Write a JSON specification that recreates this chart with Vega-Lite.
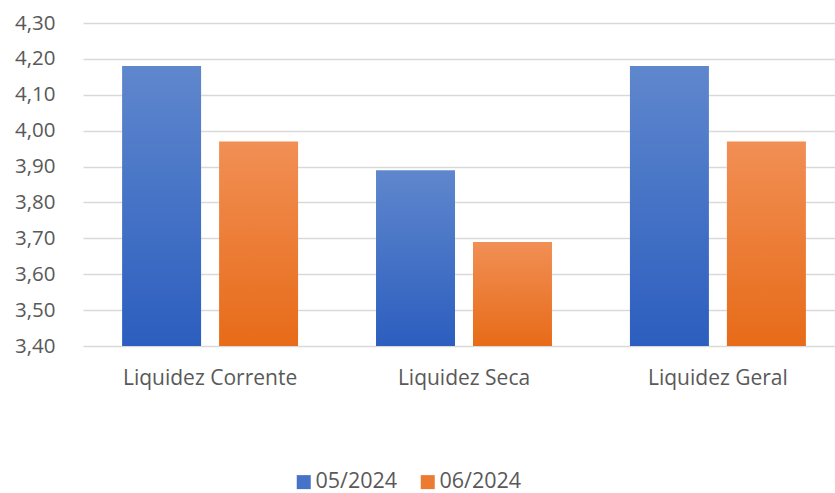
{
  "$schema": "https://vega.github.io/schema/vega-lite/v6.json",
  "width": 762,
  "height": 323,
  "padding": {"left": 83, "top": 23, "right": 0, "bottom": 147},
  "autosize": {"type": "none"},
  "background": "white",
  "config": {
    "view": {"stroke": null},
    "font": "Open Sans",
    "axis": {"labelFont": "Open Sans", "labelColor": "#595959", "labelFontSize": 20}
  },
  "data": {
    "values": [
      {"categoria": "Liquidez Corrente", "periodo": "05/2024", "valor": 4.18},
      {"categoria": "Liquidez Corrente", "periodo": "06/2024", "valor": 3.97},
      {"categoria": "Liquidez Seca", "periodo": "05/2024", "valor": 3.89},
      {"categoria": "Liquidez Seca", "periodo": "06/2024", "valor": 3.69},
      {"categoria": "Liquidez Geral", "periodo": "05/2024", "valor": 4.18},
      {"categoria": "Liquidez Geral", "periodo": "06/2024", "valor": 3.97}
    ]
  },
  "encoding": {
    "x": {
      "field": "categoria", "type": "nominal", "sort": null,
      "scale": {"paddingInner": 0.307, "paddingOuter": 0.154},
      "axis": {"title": null, "labelAngle": 0, "ticks": false, "domain": false, "labelPadding": 21, "labelFontSize": 21}
    },
    "xOffset": {
      "field": "periodo", "type": "nominal",
      "scale": {"domain": ["05/2024", "06/2024"], "paddingInner": 0.1856, "paddingOuter": 0}
    },
    "y": {
      "field": "valor", "type": "quantitative",
      "scale": {"domain": [3.4, 4.3], "zero": false, "nice": false},
      "axis": {
        "title": null, "values": [3.4, 3.5, 3.6, 3.7, 3.8, 3.9, 4.0, 4.1, 4.2, 4.3],
        "labelExpr": "replace(format(datum.value, '.2f'), '.', ',')",
        "domain": false, "ticks": false, "labelPadding": 28, "labelFontSize": 20.5,
        "gridColor": "#d9d9d9", "gridWidth": 1.3
      }
    },
    "y2": {"datum": 3.4}
  },
  "layer": [
    {
      "transform": [{"filter": "datum.periodo == '05/2024'"}],
      "mark": {"type": "bar", "clip": true,
        "color": {"gradient": "linear", "x1": 0, "y1": 0, "x2": 0, "y2": 1, "stops": [{"offset": 0, "color": "#5f87cd"}, {"offset": 1, "color": "#2c5ebf"}]}}
    },
    {
      "transform": [{"filter": "datum.periodo == '06/2024'"}],
      "mark": {"type": "bar", "clip": true,
        "color": {"gradient": "linear", "x1": 0, "y1": 0, "x2": 0, "y2": 1, "stops": [{"offset": 0, "color": "#f18f55"}, {"offset": 1, "color": "#e76b18"}]}}
    },
    {
      "transform": [{"filter": "datum.valor < 0"}],
      "mark": {"type": "point", "shape": "square", "filled": true},
      "encoding": {
        "x": null, "y": null, "y2": null, "xOffset": null,
        "color": {
          "field": "periodo", "type": "nominal",
          "scale": {"domain": ["05/2024", "06/2024"], "range": ["#4673c8", "#ec7a30"]},
          "legend": {
            "title": null, "orient": "none", "direction": "horizontal",
            "legendX": 210, "legendY": 448,
            "symbolType": "square", "symbolSize": 196, "symbolStrokeWidth": 0, "symbolOpacity": 1,
            "labelFontSize": 21.5, "labelColor": "#595959", "labelFont": "Open Sans",
            "columnPadding": 19, "labelOffset": 1
          }
        }
      }
    }
  ]
}
